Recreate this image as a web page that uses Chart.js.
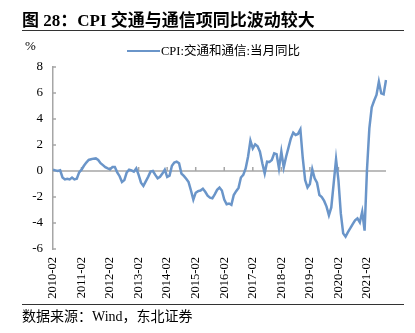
<!DOCTYPE html>
<html>
<head>
<meta charset="utf-8">
<script src="https://cdn.jsdelivr.net/npm/chart.js@4"></script>
<style>
  body { margin: 0; background: #fff; }
  #wrap { position: relative; width: 415px; height: 333px; overflow: hidden; font-family: "Liberation Serif", "Noto Sans CJK SC", serif; color: #000; }
  #chart { position: absolute; left: 0; top: 0; }
  #title { position: absolute; left: 22px; top: 6px; font-size: 17px; font-weight: bold; white-space: nowrap; }
  .rule { position: absolute; left: 22px; width: 382px; height: 0; border-top: 1px solid #333; }
  #unit { position: absolute; left: 25px; top: 38px; font-size: 13px; }
  #legend { position: absolute; left: 127px; top: 40px; font-size: 12.5px; white-space: nowrap; }
  #legend span.swatch { display: inline-block; width: 33px; height: 0; border-top: 2.5px solid #6a95c9; vertical-align: middle; margin-right: 1px; position: relative; top: -1px; }
  #source { position: absolute; left: 22px; top: 305px; font-size: 14px; white-space: nowrap; }
</style>
</head>
<body>
<div id="wrap">
  <canvas id="chart" width="415" height="333"></canvas>
  <div id="title">图 28：CPI 交通与通信项同比波动较大</div>
  <div class="rule" style="top:30px"></div>
  <div id="unit">%</div>
  <div id="legend"><span class="swatch"></span>CPI:交通和通信:当月同比</div>
  <div class="rule" style="top:304px"></div>
  <div id="source">数据来源：Wind，东北证券</div>
</div>
<script>
// months 2010-02 .. 2021-10
const months = [];
for (let y = 2010, m = 2; y < 2021 || (y === 2021 && m <= 10); m++) {
  if (m > 12) { m = 1; y++; }
  months.push(y + "-" + String(m).padStart(2, "0"));
}

// CPI: 交通和通信: 当月同比 (%)
const cpiTransport = [
  0.1, 0.05, 0.0, 0.05, -0.5, -0.65, -0.6, -0.65, -0.5, -0.65, -0.6, -0.1,
  0.1, 0.4, 0.65, 0.85, 0.9, 0.95, 0.97, 0.85, 0.6, 0.45, 0.3, 0.2,
  0.13, 0.3, 0.3, -0.1, -0.4, -0.85, -0.7, -0.1, 0.1, 0.05, -0.05, 0.2,
  -0.3, -0.9, -1.15, -0.8, -0.45, -0.05, 0.0, -0.3, -0.56, -0.45, -0.2, 0.1,
  -0.45, -0.35, 0.4, 0.65, 0.72, 0.6, -0.2, -0.38, -0.6, -0.85, -1.5, -2.2,
  -1.67, -1.55, -1.5, -1.36, -1.6, -1.9, -2.05, -2.1, -1.8, -1.45, -1.28, -1.5,
  -2.2, -2.56, -2.5, -2.6, -1.85, -1.55, -1.3, -0.5, -0.3, 0.2, 1.1, 2.33,
  1.74, 2.05, 1.9, 1.49, 0.6, -0.18, 0.72, 0.7, 0.85, 1.36, 1.3, 0.2,
  1.49, 0.28, 1.1, 1.8, 2.5, 2.95, 2.77, 2.85, 3.2, 1.0, -0.7, -1.26,
  -1.0, 0.13, -0.56, -0.9, -1.85, -2.0, -2.3, -2.74, -3.4, -2.8, -0.95, 0.9,
  -0.7, -3.26, -4.8, -5.05, -4.7, -4.4, -4.08, -3.8, -3.64, -3.95, -3.13, -4.59,
  0.08, 3.28, 4.9, 5.4, 5.85, 6.87, 5.97, 5.9, 7.0
];

const yTicks = [-6, -4, -2, 0, 2, 4, 6, 8];

const axisGrey = "#a6a6a6";

// zero line with year ticks pointing up, and short inward y ticks
const zeroAxis = {
  id: "zeroAxis",
  beforeDatasetsDraw(chart) {
    const { ctx, chartArea, scales: { x, y } } = chart;
    const y0 = y.getPixelForValue(0);
    ctx.save();
    ctx.strokeStyle = axisGrey;
    ctx.lineWidth = 1.5;
    ctx.beginPath();
    ctx.moveTo(chartArea.left, y0);
    ctx.lineTo(chartArea.right, y0);
    months.forEach((m, i) => {
      if (i > 0 && i % 12 === 0) {
        const px = x.getPixelForValue(i);
        ctx.moveTo(px, y0);
        ctx.lineTo(px, y0 - 4);
      }
    });
    yTicks.forEach(v => {
      const py = y.getPixelForValue(v);
      ctx.moveTo(chartArea.left, py);
      ctx.lineTo(chartArea.left + 3, py);
    });
    ctx.stroke();
    ctx.restore();
  }
};

new Chart(document.getElementById("chart"), {
  type: "line",
  data: {
    labels: months,
    datasets: [{
      label: "CPI:交通和通信:当月同比",
      data: cpiTransport,
      borderColor: "#6a95c9",
      borderWidth: 2.5,
      pointRadius: 0,
      tension: 0,
      fill: false
    }]
  },
  options: {
    responsive: false,
    animation: false,
    layout: { padding: { top: 67, right: 29, left: 0, bottom: 0 } },
    plugins: { legend: { display: false }, tooltip: { enabled: false } },
    scales: {
      x: {
        offset: false,
        grid: { display: false, drawTicks: false },
        border: { display: false },
        afterFit: s => { s.height = 84; },
        ticks: {
          autoSkip: false,
          maxRotation: 90,
          minRotation: 90,
          padding: 8,
          color: "#000",
          font: { family: "Liberation Serif", size: 12.5 },
          callback: (v, i) => (i % 12 === 0 ? months[i] : "")
        }
      },
      y: {
        min: -6,
        max: 8,
        grid: { display: false, drawTicks: false },
        border: { display: true, color: axisGrey, width: 1.5 },
        afterFit: s => { s.width = 53; },
        afterBuildTicks: s => { s.ticks = yTicks.map(v => ({ value: v })); },
        ticks: {
          padding: 10,
          color: "#000",
          font: { family: "Liberation Serif", size: 13 }
        }
      }
    }
  },
  plugins: [zeroAxis]
});
</script>
</body>
</html>
